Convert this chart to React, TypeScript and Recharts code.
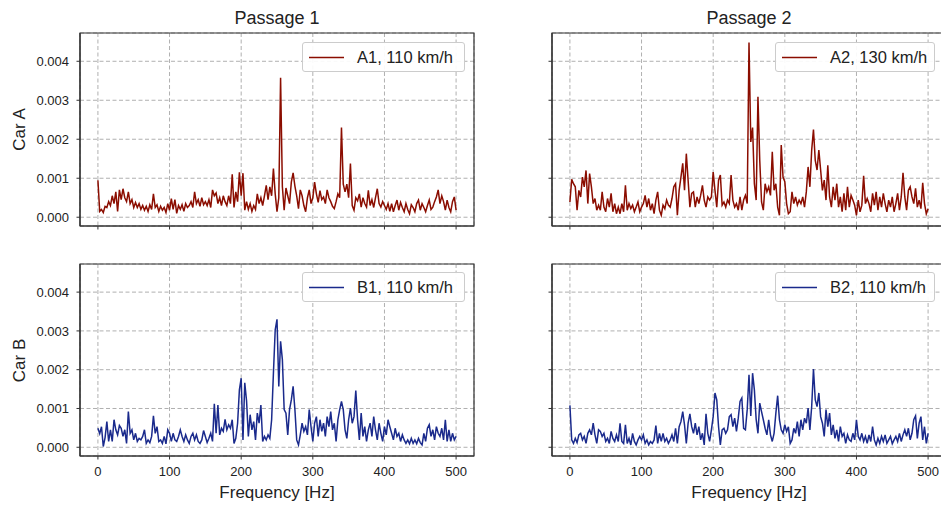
import React from 'react';
import { LineChart, Line, XAxis, YAxis, CartesianGrid, Legend, ReferenceArea } from 'recharts';

// Frequency bins [Hz]
const FREQ_HZ = [
  0, 2.5, 5, 7.5, 10, 12.5, 15, 17.5, 20, 22.5, 25, 27.5, 30, 32.5, 35, 37.5, 40, 42.5, 45, 47.5,
  50, 52.5, 55, 57.5, 60, 62.5, 65, 67.5, 70, 72.5, 75, 77.5, 80, 82.5, 85, 87.5, 90, 92.5, 95, 97.5,
  100, 102.5, 105, 107.5, 110, 112.5, 115, 117.5, 120, 122.5, 125, 127.5, 130, 132.5, 135, 137.5, 140, 142.5, 145, 147.5,
  150, 152.5, 155, 157.5, 160, 162.5, 165, 167.5, 170, 172.5, 175, 177.5, 180, 182.5, 185, 187.5, 190, 192.5, 195, 197.5,
  200, 202.5, 205, 207.5, 210, 212.5, 215, 217.5, 220, 222.5, 225, 227.5, 230, 232.5, 235, 237.5, 240, 242.5, 245, 247.5,
  250, 252.5, 255, 257.5, 260, 262.5, 265, 267.5, 270, 272.5, 275, 277.5, 280, 282.5, 285, 287.5, 290, 292.5, 295, 297.5,
  300, 302.5, 305, 307.5, 310, 312.5, 315, 317.5, 320, 322.5, 325, 327.5, 330, 332.5, 335, 337.5, 340, 342.5, 345, 347.5,
  350, 352.5, 355, 357.5, 360, 362.5, 365, 367.5, 370, 372.5, 375, 377.5, 380, 382.5, 385, 387.5, 390, 392.5, 395, 397.5,
  400, 402.5, 405, 407.5, 410, 412.5, 415, 417.5, 420, 422.5, 425, 427.5, 430, 432.5, 435, 437.5, 440, 442.5, 445, 447.5,
  450, 452.5, 455, 457.5, 460, 462.5, 465, 467.5, 470, 472.5, 475, 477.5, 480, 482.5, 485, 487.5, 490, 492.5, 495, 497.5,
  500,
];

// Car A, passage 1 (110 km/h)
const A1 = [
  9.5e-4, 1.5e-4, 2.0e-4, 1.2e-4, 2.8e-4, 2.5e-4, 4.0e-4, 3.0e-4, 5.5e-4, 3.5e-4,
  6.5e-4, 1.5e-4, 7.0e-4, 4.5e-4, 7.3e-4, 5.0e-4, 4.0e-4, 6.5e-4, 3.5e-4, 4.5e-4,
  2.5e-4, 3.8e-4, 2.5e-4, 3.5e-4, 2.0e-4, 3.0e-4, 1.8e-4, 2.8e-4, 1.5e-4, 3.2e-4,
  2.0e-4, 6.0e-4, 2.5e-4, 3.2e-4, 1.5e-4, 2.8e-4, 1.8e-4, 2.5e-4, 1.2e-4, 3.5e-4,
  1.8e-4, 4.8e-4, 2.0e-4, 4.5e-4, 1.0e-4, 3.0e-4, 2.0e-4, 3.2e-4, 1.5e-4, 3.5e-4,
  2.5e-4, 3.0e-4, 4.0e-4, 2.5e-4, 6.5e-4, 3.5e-4, 4.5e-4, 2.8e-4, 5.0e-4, 3.2e-4,
  4.0e-4, 3.0e-4, 4.5e-4, 2.5e-4, 7.0e-4, 5.5e-4, 6.2e-4, 3.5e-4, 5.0e-4, 3.0e-4,
  5.5e-4, 4.0e-4, 3.0e-4, 5.5e-4, 3.5e-4, 11.0e-4, 2.5e-4, 6.5e-4, 4.0e-4, 11.5e-4,
  5.5e-4, 11.3e-4, 1.8e-4, 4.0e-4, 2.0e-4, 3.5e-4, 1.5e-4, 3.0e-4, 2.0e-4, 6.0e-4,
  3.5e-4, 5.0e-4, 3.0e-4, 5.5e-4, 8.2e-4, 4.5e-4, 7.8e-4, 5.5e-4, 12.5e-4, 6.0e-4,
  1.4e-4, 5.0e-4, 35.8e-4, 7.8e-4, 1.8e-4, 7.5e-4, 5.5e-4, 3.5e-4, 9.0e-4, 11.4e-4,
  8.0e-4, 5.5e-4, 2.2e-4, 7.0e-4, 5.5e-4, 3.0e-4, 1.4e-4, 5.0e-4, 7.0e-4, 3.5e-4,
  5.0e-4, 9.0e-4, 6.0e-4, 3.8e-4, 6.8e-4, 4.5e-4, 5.2e-4, 3.5e-4, 7.0e-4, 5.0e-4,
  4.0e-4, 2.8e-4, 2.2e-4, 4.0e-4, 6.0e-4, 5.0e-4, 23.0e-4, 8.5e-4, 6.5e-4, 8.5e-4,
  5.0e-4, 13.8e-4, 3.0e-4, 1.8e-4, 5.0e-4, 4.2e-4, 6.0e-4, 2.6e-4, 5.0e-4, 3.5e-4,
  2.6e-4, 6.9e-4, 3.0e-4, 4.5e-4, 2.5e-4, 5.0e-4, 7.3e-4, 3.5e-4, 2.6e-4, 4.0e-4,
  3.0e-4, 2.0e-4, 3.5e-4, 1.5e-4, 3.5e-4, 1.4e-4, 3.0e-4, 4.4e-4, 1.8e-4, 3.8e-4,
  2.5e-4, 1.4e-4, 3.5e-4, 2.0e-4, 0.9e-4, 3.2e-4, 2.5e-4, 1.4e-4, 3.5e-4, 4.4e-4,
  1.8e-4, 3.5e-4, 2.5e-4, 1.4e-4, 3.0e-4, 4.4e-4, 2.0e-4, 2.6e-4, 4.0e-4, 5.2e-4,
  7.0e-4, 3.5e-4, 5.5e-4, 4.0e-4, 1.8e-4, 4.4e-4, 2.5e-4, 1.4e-4, 4.0e-4, 5.2e-4,
  1.8e-4,
];

// Car A, passage 2 (130 km/h)
const A2 = [
  3.9e-4, 9.7e-4, 8.6e-4, 7.8e-4, 1.8e-4, 6.9e-4, 5.2e-4, 10.3e-4, 7.8e-4, 12.0e-4,
  3.5e-4, 11.2e-4, 7.8e-4, 3.5e-4, 4.8e-4, 1.8e-4, 3.1e-4, 1.8e-4, 6.5e-4, 2.6e-4,
  1.4e-4, 4.8e-4, 2.6e-4, 6.1e-4, 1.4e-4, 3.5e-4, 0.9e-4, 2.6e-4, 0.9e-4, 3.5e-4,
  1.4e-4, 8.2e-4, 1.8e-4, 3.5e-4, 2.2e-4, 3.1e-4, 1.4e-4, 2.6e-4, 3.9e-4, 1.4e-4,
  2.6e-4, 3.5e-4, 5.6e-4, 2.6e-4, 4.8e-4, 1.8e-4, 3.5e-4, 0.9e-4, 4.4e-4, 6.5e-4,
  1.8e-4, 0.5e-4, 3.1e-4, 2.2e-4, 4.4e-4, 3.1e-4, 2.6e-4, 4.8e-4, 7.8e-4, 8.6e-4,
  0.5e-4, 6.9e-4, 10.3e-4, 13.8e-4, 6.9e-4, 16.3e-4, 9.5e-4, 2.6e-4, 6.1e-4, 6.5e-4,
  2.6e-4, 5.2e-4, 3.5e-4, 5.6e-4, 8.2e-4, 4.4e-4, 2.6e-4, 5.2e-4, 4.4e-4, 5.2e-4,
  11.6e-4, 6.9e-4, 2.6e-4, 9.5e-4, 10.8e-4, 3.1e-4, 3.9e-4, 2.6e-4, 4.4e-4, 3.5e-4,
  10.8e-4, 4.4e-4, 2.6e-4, 3.5e-4, 1.8e-4, 5.2e-4, 1.8e-4, 4.4e-4, 5.6e-4, 3.5e-4,
  44.8e-4, 19.3e-4, 23.0e-4, 8.6e-4, 4.4e-4, 30.9e-4, 14.6e-4, 3.9e-4, 1.8e-4, 8.6e-4,
  6.5e-4, 7.8e-4, 5.6e-4, 16.8e-4, 6.9e-4, 8.6e-4, 2.6e-4, 0.5e-4, 18.5e-4, 10.3e-4,
  9.1e-4, 3.5e-4, 0.9e-4, 1.4e-4, 6.5e-4, 3.5e-4, 5.2e-4, 3.1e-4, 4.4e-4, 3.5e-4,
  5.2e-4, 2.6e-4, 6.5e-4, 12.9e-4, 7.8e-4, 17.2e-4, 22.5e-4, 14.6e-4, 12.1e-4, 17.2e-4,
  12.1e-4, 6.9e-4, 9.5e-4, 4.4e-4, 13.3e-4, 5.2e-4, 2.6e-4, 7.8e-4, 4.4e-4, 8.6e-4,
  2.6e-4, 5.2e-4, 1.4e-4, 6.1e-4, 1.8e-4, 7.8e-4, 2.6e-4, 5.6e-4, 4.4e-4, 3.1e-4,
  0.5e-4, 4.4e-4, 1.4e-4, 3.1e-4, 10.6e-4, 3.5e-4, 4.8e-4, 3.5e-4, 1.4e-4, 6.1e-4,
  3.1e-4, 6.5e-4, 1.8e-4, 5.2e-4, 2.6e-4, 6.1e-4, 3.5e-4, 1.4e-4, 4.4e-4, 2.6e-4,
  5.2e-4, 1.4e-4, 3.5e-4, 6.1e-4, 1.8e-4, 5.2e-4, 11.4e-4, 5.2e-4, 1.8e-4, 6.9e-4,
  7.8e-4, 5.2e-4, 3.5e-4, 7.4e-4, 2.6e-4, 4.4e-4, 2.2e-4, 8.8e-4, 3.5e-4, 0.9e-4,
  2.2e-4,
];

// Car B, passage 1 (110 km/h)
const B1 = [
  4.9e-4, 3.5e-4, 5.3e-4, 0.2e-4, 2.5e-4, 6.6e-4, 1.5e-4, 4.5e-4, 1.5e-4, 7.1e-4,
  4.5e-4, 3.2e-4, 5.6e-4, 4.9e-4, 2.8e-4, 4.5e-4, 1.0e-4, 9.2e-4, 3.6e-4, 4.5e-4,
  1.9e-4, 3.6e-4, 1.5e-4, 2.3e-4, 1.9e-4, 2.8e-4, 4.5e-4, 1.0e-4, 1.9e-4, 1.2e-4,
  2.8e-4, 8.1e-4, 3.6e-4, 5.3e-4, 1.5e-4, 1.9e-4, 1.0e-4, 2.8e-4, 0.9e-4, 4.5e-4,
  3.6e-4, 1.5e-4, 3.6e-4, 1.9e-4, 1.5e-4, 2.8e-4, 4.5e-4, 2.8e-4, 1.5e-4, 3.2e-4,
  1.9e-4, 1.0e-4, 2.8e-4, 3.6e-4, 1.9e-4, 3.2e-4, 1.5e-4, 1.0e-4, 1.9e-4, 4.3e-4,
  2.8e-4, 1.2e-4, 2.3e-4, 3.6e-4, 1.5e-4, 11.2e-4, 3.6e-4, 10.9e-4, 3.2e-4, 4.9e-4,
  4.1e-4, 7.2e-4, 4.5e-4, 5.8e-4, 4.9e-4, 7.1e-4, 1.0e-4, 2.3e-4, 6.2e-4, 14.8e-4,
  17.8e-4, 1.9e-4, 16.6e-4, 12.0e-4, 2.8e-4, 8.4e-4, 4.5e-4, 6.6e-4, 1.9e-4, 8.8e-4,
  6.2e-4, 10.9e-4, 1.5e-4, 2.8e-4, 1.9e-4, 3.2e-4, 2.3e-4, 7.1e-4, 19.1e-4, 30.3e-4,
  33.0e-4, 15.7e-4, 27.3e-4, 22.6e-4, 9.7e-4, 8.8e-4, 3.2e-4, 9.7e-4, 12.2e-4, 15.7e-4,
  9.7e-4, 1.9e-4, 0.6e-4, 3.2e-4, 6.2e-4, 4.1e-4, 5.3e-4, 3.2e-4, 9.7e-4, 5.3e-4,
  1.5e-4, 6.2e-4, 7.9e-4, 2.8e-4, 7.1e-4, 4.1e-4, 6.2e-4, 2.8e-4, 7.9e-4, 5.3e-4,
  9.2e-4, 4.5e-4, 6.2e-4, 1.5e-4, 7.1e-4, 9.7e-4, 11.8e-4, 9.7e-4, 4.5e-4, 2.3e-4,
  7.1e-4, 10.1e-4, 6.2e-4, 7.9e-4, 14.6e-4, 7.1e-4, 1.9e-4, 8.8e-4, 2.8e-4, 5.3e-4,
  1.5e-4, 4.5e-4, 6.2e-4, 2.8e-4, 7.9e-4, 4.5e-4, 1.9e-4, 6.2e-4, 3.6e-4, 1.5e-4,
  5.3e-4, 3.2e-4, 7.1e-4, 5.3e-4, 3.6e-4, 1.9e-4, 4.9e-4, 2.8e-4, 3.6e-4, 1.5e-4,
  3.2e-4, 1.9e-4, 1.0e-4, 1.9e-4, 0.9e-4, 2.3e-4, 1.0e-4, 1.9e-4, 0.9e-4, 2.3e-4,
  1.2e-4, 0.6e-4, 3.6e-4, 1.5e-4, 4.9e-4, 5.8e-4, 2.8e-4, 4.5e-4, 1.9e-4, 5.3e-4,
  3.6e-4, 2.8e-4, 4.9e-4, 1.9e-4, 7.1e-4, 1.5e-4, 4.5e-4, 1.5e-4, 3.6e-4, 1.9e-4,
  2.8e-4,
];

// Car B, passage 2 (110 km/h)
const B2 = [
  10.8e-4, 1.9e-4, 1.0e-4, 2.3e-4, 1.2e-4, 3.2e-4, 3.6e-4, 1.9e-4, 2.8e-4, 1.0e-4,
  3.6e-4, 4.5e-4, 3.2e-4, 6.2e-4, 3.2e-4, 1.0e-4, 4.5e-4, 4.1e-4, 2.8e-4, 3.6e-4,
  1.5e-4, 2.3e-4, 1.0e-4, 4.1e-4, 2.3e-4, 1.5e-4, 3.2e-4, 1.5e-4, 6.2e-4, 1.5e-4,
  1.0e-4, 5.8e-4, 1.0e-4, 2.3e-4, 0.6e-4, 3.6e-4, 1.5e-4, 0.6e-4, 1.9e-4, 2.8e-4,
  1.9e-4, 3.2e-4, 1.0e-4, 1.9e-4, 0.6e-4, 1.5e-4, 1.0e-4, 1.9e-4, 5.6e-4, 1.0e-4,
  3.6e-4, 1.5e-4, 3.6e-4, 1.5e-4, 2.3e-4, 1.0e-4, 1.9e-4, 3.2e-4, 1.5e-4, 4.9e-4,
  1.0e-4, 5.3e-4, 6.6e-4, 9.2e-4, 5.8e-4, 1.0e-4, 6.2e-4, 8.6e-4, 5.3e-4, 3.6e-4,
  6.2e-4, 3.2e-4, 5.3e-4, 1.9e-4, 3.6e-4, 0.6e-4, 8.6e-4, 3.6e-4, 1.5e-4, 4.5e-4,
  7.9e-4, 14.0e-4, 12.2e-4, 5.3e-4, 0.6e-4, 4.5e-4, 4.9e-4, 3.6e-4, 4.5e-4, 7.9e-4,
  8.4e-4, 5.3e-4, 7.5e-4, 4.1e-4, 7.5e-4, 11.8e-4, 12.7e-4, 4.9e-4, 4.5e-4, 9.7e-4,
  18.7e-4, 8.1e-4, 19.1e-4, 14.8e-4, 7.2e-4, 3.6e-4, 11.4e-4, 9.2e-4, 7.1e-4, 4.9e-4,
  3.2e-4, 7.1e-4, 3.2e-4, 1.5e-4, 3.6e-4, 8.8e-4, 13.3e-4, 7.1e-4, 4.5e-4, 3.6e-4,
  5.8e-4, 4.1e-4, 5.3e-4, 1.0e-4, 1.9e-4, 4.9e-4, 3.6e-4, 6.6e-4, 2.8e-4, 7.1e-4,
  4.5e-4, 7.5e-4, 6.2e-4, 10.1e-4, 4.5e-4, 10.5e-4, 20.2e-4, 12.2e-4, 10.5e-4, 14.0e-4,
  7.9e-4, 6.2e-4, 2.8e-4, 9.7e-4, 5.3e-4, 8.8e-4, 3.2e-4, 5.8e-4, 2.3e-4, 4.5e-4,
  1.5e-4, 5.3e-4, 2.8e-4, 3.6e-4, 1.0e-4, 3.2e-4, 1.9e-4, 1.5e-4, 3.6e-4, 1.9e-4,
  7.1e-4, 2.8e-4, 1.9e-4, 3.6e-4, 1.5e-4, 2.8e-4, 1.0e-4, 3.2e-4, 1.5e-4, 5.3e-4,
  1.9e-4, 0.6e-4, 2.3e-4, 1.0e-4, 2.8e-4, 1.5e-4, 3.2e-4, 1.0e-4, 1.9e-4, 2.8e-4,
  0.9e-4, 1.9e-4, 2.8e-4, 1.5e-4, 3.6e-4, 1.5e-4, 3.2e-4, 4.5e-4, 2.8e-4, 4.9e-4,
  1.9e-4, 3.6e-4, 7.1e-4, 8.1e-4, 2.3e-4, 6.2e-4, 7.9e-4, 1.9e-4, 5.3e-4, 1.0e-4,
  3.6e-4,
];

const X_TICKS = [0, 100, 200, 300, 400, 500];
const Y_TICKS = [0, 0.001, 0.002, 0.003, 0.004];
const X_DOMAIN: [number, number] = [-25, 525];
const Y_DOMAIN: [number, number] = [-0.000225, 0.004725];

const ROWS = FREQ_HZ.map((hz, i) => ({ hz, a1: A1[i], a2: A2[i], b1: B1[i], b2: B2[i] }));

const FONT = '"Liberation Sans", Arial, Helvetica, sans-serif';
const INK = '#222222';
const SPINE = '#333333';
const GRID = '#b0b0b0';
const RED = '#8b0d00';
const BLUE = '#1a2a8c';

const YW = 80; // room for y tick labels
const XH = 40; // room for x tick labels
const PAD = 5;

type PanelProps = {
  x: number;
  y: number;
  w: number;
  h: number;
  dataKey: string;
  color: string;
  name: string;
  xLabels: boolean;
  yLabels: boolean;
  legendLeft: number;
  legendTop: number;
  legendWidth: number;
};

function LegendBox({ color, name, width }: { color: string; name: string; width: number }) {
  return (
    <div
      style={{
        boxSizing: 'border-box',
        width,
        height: 30,
        border: '1px solid #cccccc',
        borderRadius: 3,
        background: 'rgba(255,255,255,0.92)',
        position: 'relative',
        fontFamily: FONT,
        fontSize: 16.5,
        color: INK,
      }}
    >
      <svg width={40} height={28} style={{ position: 'absolute', left: 6, top: 0 }}>
        <line x1={0} y1={14.5} x2={35} y2={14.5} stroke={color} strokeWidth={1.5} />
      </svg>
      <span style={{ position: 'absolute', left: 54, top: 5, lineHeight: '19px', whiteSpace: 'nowrap' }}>
        {name}
      </span>
    </div>
  );
}

function Panel(p: PanelProps) {
  const cw = YW + p.w + PAD;
  const ch = PAD + p.h + XH;
  const tickStyle = { fill: INK, fontSize: 13, fontFamily: FONT };
  return (
    <div style={{ position: 'absolute', left: p.x - YW, top: p.y - PAD }}>
      <LineChart width={cw} height={ch} data={ROWS} margin={{ top: PAD, right: PAD, bottom: 0, left: 0 }}>
        <CartesianGrid stroke={GRID} strokeDasharray="4 2.5" strokeWidth={1} />
        <XAxis
          dataKey="hz"
          type="number"
          domain={X_DOMAIN}
          ticks={X_TICKS}
          interval={0}
          height={XH}
          axisLine={{ stroke: SPINE, strokeWidth: 1.2 }}
          tickLine={{ stroke: SPINE, strokeWidth: 1 }}
          tickSize={3.5}
          tickMargin={7}
          tick={tickStyle}
          tickFormatter={(v: number) => (p.xLabels ? String(v) : '')}
        />
        <YAxis
          type="number"
          domain={Y_DOMAIN}
          ticks={Y_TICKS}
          interval={0}
          width={YW}
          axisLine={{ stroke: SPINE, strokeWidth: 1.2 }}
          tickLine={{ stroke: SPINE, strokeWidth: 1 }}
          tickSize={3.5}
          tickMargin={7.5}
          tick={tickStyle}
          tickFormatter={(v: number) => (p.yLabels ? v.toFixed(3) : '')}
        />
        <Line
          dataKey={p.dataKey}
          type="linear"
          stroke={p.color}
          strokeWidth={1.5}
          dot={false}
          activeDot={false}
          isAnimationActive={false}
        />
        {/* axes frame */}
        <ReferenceArea
          x1={X_DOMAIN[0]}
          x2={X_DOMAIN[1]}
          y1={Y_DOMAIN[0]}
          y2={Y_DOMAIN[1]}
          fill="none"
          fillOpacity={0}
          stroke={SPINE}
          strokeWidth={1.2}
          ifOverflow="visible"
        />
        <Legend
          layout="horizontal"
          verticalAlign="middle"
          wrapperStyle={{ left: p.legendLeft, top: p.legendTop, width: 'auto', height: 'auto', margin: 0 }}
          content={() => <LegendBox color={p.color} name={p.name} width={p.legendWidth} />}
        />
      </LineChart>
    </div>
  );
}

const textBase: React.CSSProperties = {
  position: 'absolute',
  fontFamily: FONT,
  color: INK,
  whiteSpace: 'nowrap',
  textAlign: 'center',
};

export default function App() {
  const leftX = 80;
  const rightX = 552;
  const topY = 33;
  const botY = 264;
  const w = 394;
  return (
    <div
      style={{
        position: 'absolute',
        left: 0,
        top: 0,
        width: 941,
        height: 505,
        overflow: 'hidden',
        background: '#ffffff',
      }}
    >
      <Panel x={leftX} y={topY} w={w} h={193} dataKey="a1" color={RED} name="A1, 110 km/h"
        xLabels={false} yLabels legendLeft={302} legendTop={14} legendWidth={163} />
      <Panel x={rightX} y={topY} w={w} h={193} dataKey="a2" color={RED} name="A2, 130 km/h"
        xLabels={false} yLabels={false} legendLeft={303} legendTop={14} legendWidth={160} />
      <Panel x={leftX} y={botY} w={w} h={192} dataKey="b1" color={BLUE} name="B1, 110 km/h"
        xLabels yLabels legendLeft={302} legendTop={13} legendWidth={163} />
      <Panel x={rightX} y={botY} w={w} h={192} dataKey="b2" color={BLUE} name="B2, 110 km/h"
        xLabels yLabels={false} legendLeft={303} legendTop={13} legendWidth={160} />

      <div style={{ ...textBase, left: 177, width: 200, top: 9, fontSize: 18, lineHeight: '18px' }}>Passage 1</div>
      <div style={{ ...textBase, left: 649, width: 200, top: 9, fontSize: 18, lineHeight: '18px' }}>Passage 2</div>

      <div style={{ ...textBase, left: 177, width: 200, top: 484, fontSize: 17, lineHeight: '17px' }}>Frequency [Hz]</div>
      <div style={{ ...textBase, left: 649, width: 200, top: 484, fontSize: 17, lineHeight: '17px' }}>Frequency [Hz]</div>

      <div style={{ ...textBase, left: -31, width: 100, top: 121, fontSize: 17, lineHeight: '17px', transform: 'rotate(-90deg)' }}>Car A</div>
      <div style={{ ...textBase, left: -31, width: 100, top: 352, fontSize: 17, lineHeight: '17px', transform: 'rotate(-90deg)' }}>Car B</div>
    </div>
  );
}
